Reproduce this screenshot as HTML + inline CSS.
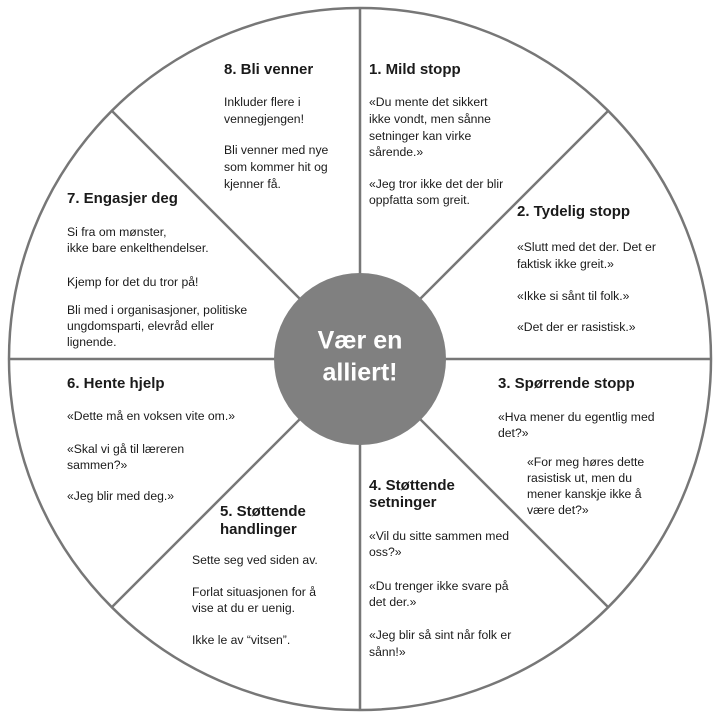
<!DOCTYPE html>
<html><head><meta charset="utf-8"><style>
html,body{margin:0;padding:0;background:#fff;}
svg{display:block}
text{font-family:"Liberation Sans",sans-serif;fill:#1a1a1a;dominant-baseline:middle}
.h{font-weight:bold;font-size:15px}
.b{font-size:12.2px}
</style></head><body>
<svg width="718" height="718" viewBox="0 0 718 718">
<g stroke="#777" stroke-width="2.5">
<circle cx="360" cy="359" r="351" fill="#fff"/>
<line x1="360" y1="8" x2="360" y2="710"/>
<line x1="9" y1="359" x2="711" y2="359"/>
<line x1="112" y1="111" x2="608" y2="607"/>
<line x1="608" y1="111" x2="112" y2="607"/>
</g>
<circle cx="360" cy="359" r="86" fill="#808080"/>
<text x="360" y="342" text-anchor="middle" style="font-weight:bold;font-size:25px;fill:#fff">Vær en</text>
<text x="360" y="374" text-anchor="middle" style="font-weight:bold;font-size:25px;fill:#fff">alliert!</text>

<text class="h" x="224" y="70">8. Bli venner</text>
<text class="b" x="224" y="103">Inkluder flere i</text>
<text class="b" x="224" y="120">vennegjengen!</text>
<text class="b" x="224" y="151">Bli venner med nye</text>
<text class="b" x="224" y="168">som kommer hit og</text>
<text class="b" x="224" y="185">kjenner få.</text>

<text class="h" x="369" y="70">1. Mild stopp</text>
<text class="b" x="369" y="103">«Du mente det sikkert</text>
<text class="b" x="369" y="120">ikke vondt, men sånne</text>
<text class="b" x="369" y="137">setninger kan virke</text>
<text class="b" x="369" y="153">sårende.»</text>
<text class="b" x="369" y="185">«Jeg tror ikke det der blir</text>
<text class="b" x="369" y="201">oppfatta som greit.</text>

<text class="h" x="67" y="199">7. Engasjer deg</text>
<text class="b" x="67" y="233">Si fra om mønster,</text>
<text class="b" x="67" y="249">ikke bare enkelthendelser.</text>
<text class="b" x="67" y="283">Kjemp for det du tror på!</text>
<text class="b" x="67" y="311">Bli med i organisasjoner, politiske</text>
<text class="b" x="67" y="327">ungdomsparti, elevråd eller</text>
<text class="b" x="67" y="343">lignende.</text>

<text class="h" x="517" y="212">2. Tydelig stopp</text>
<text class="b" x="517" y="248">«Slutt med det der. Det er</text>
<text class="b" x="517" y="265">faktisk ikke greit.»</text>
<text class="b" x="517" y="297">«Ikke si sånt til folk.»</text>
<text class="b" x="517" y="328">«Det der er rasistisk.»</text>

<text class="h" x="67" y="384">6. Hente hjelp</text>
<text class="b" x="67" y="417">«Dette må en voksen vite om.»</text>
<text class="b" x="67" y="450">«Skal vi gå til læreren</text>
<text class="b" x="67" y="466">sammen?»</text>
<text class="b" x="67" y="497">«Jeg blir med deg.»</text>

<text class="h" x="498" y="384">3. Spørrende stopp</text>
<text class="b" x="498" y="418">«Hva mener du egentlig med</text>
<text class="b" x="498" y="434">det?»</text>
<text class="b" x="527" y="463">«For meg høres dette</text>
<text class="b" x="527" y="479">rasistisk ut, men du</text>
<text class="b" x="527" y="495">mener kanskje ikke å</text>
<text class="b" x="527" y="511">være det?»</text>

<text class="h" x="369" y="486">4. Støttende</text>
<text class="h" x="369" y="503">setninger</text>
<text class="b" x="369" y="537">«Vil du sitte sammen med</text>
<text class="b" x="369" y="553">oss?»</text>
<text class="b" x="369" y="587">«Du trenger ikke svare på</text>
<text class="b" x="369" y="603">det der.»</text>
<text class="b" x="369" y="636">«Jeg blir så sint når folk er</text>
<text class="b" x="369" y="653">sånn!»</text>

<text class="h" x="220" y="512">5. Støttende</text>
<text class="h" x="220" y="530">handlinger</text>
<text class="b" x="192" y="561">Sette seg ved siden av.</text>
<text class="b" x="192" y="593">Forlat situasjonen for å</text>
<text class="b" x="192" y="609">vise at du er uenig.</text>
<text class="b" x="192" y="641">Ikke le av “vitsen”.</text>
</svg>
</body></html>
